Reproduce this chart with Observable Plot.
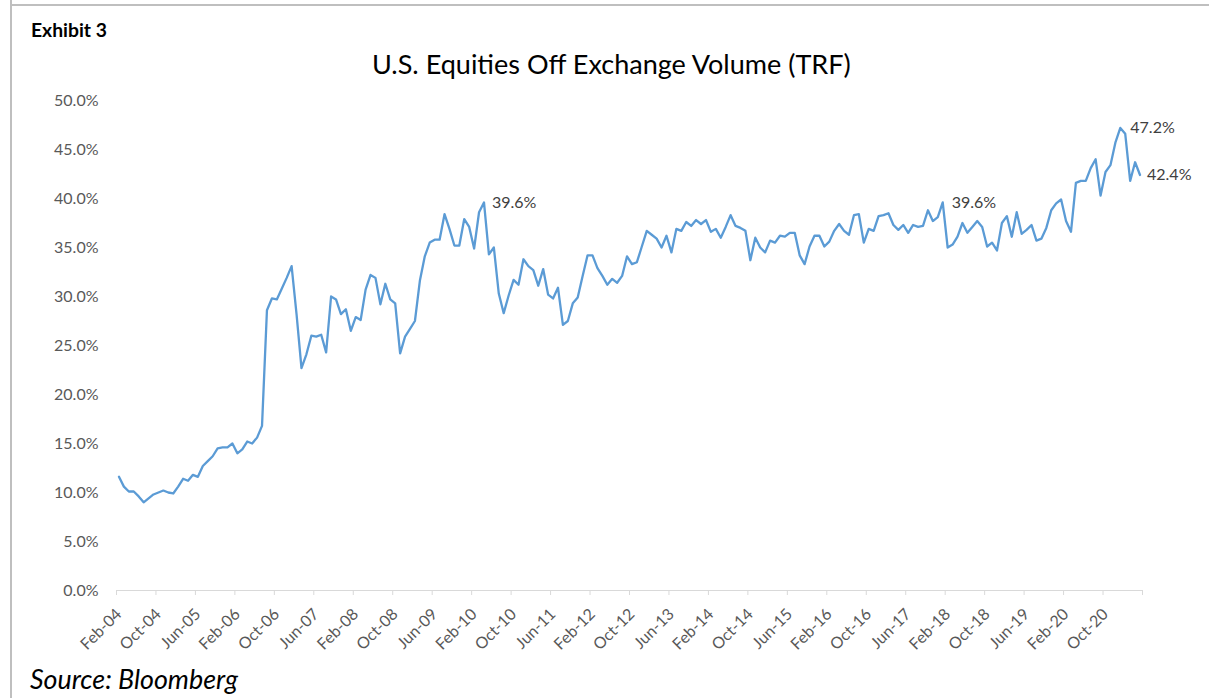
<!DOCTYPE html>
<html>
<head>
<meta charset="utf-8">
<script src="https://cdn.jsdelivr.net/npm/d3@7"></script>
<script src="https://cdn.jsdelivr.net/npm/@observablehq/plot@0.6"></script>
<style>
  body { margin: 0; background: #fff; }
  #wrap { position: relative; width: 1209px; height: 698px; overflow: hidden; font-family: Lato, "Open Sans", sans-serif; background: #fff; }
  #chart { position: absolute; left: 0; top: 0; }
  .bt { position: absolute; left: 10px; top: 4px; width: 1199px; height: 2px; background: #bfbfbf; }
  .bl { position: absolute; left: 10px; top: 0; width: 2px; height: 698px; background: #bfbfbf; }
  .txt { position: absolute; white-space: nowrap; line-height: 1; }
  #exhibit { left: 31px; top: 20px; font-weight: bold; font-size: 15px; color: #000; }
  #title { left: 372px; top: 50px; font-size: 24px; color: #000; }
  #source { left: 30px; top: 666px; font-style: italic; font-size: 22px; color: #000; }
</style>
</head>
<body>
<div id="wrap">
  <div class="bt"></div>
  <div class="bl"></div>
  <div id="chart"></div>
  <div id="exhibit" class="txt">Exhibit 3</div>
  <div id="title" class="txt">U.S. Equities Off Exchange Volume (TRF)</div>
  <div id="source" class="txt">Source: Bloomberg</div>
</div>
<script>
// Monthly share of U.S. equity volume traded off exchange (TRF), %, Feb-04 .. May-21
const offExchangeShare = [
  11.6, 10.6, 10.1, 10.1, 9.6, 9.0, 9.4, 9.8, 10.0, 10.2, 10.0, 9.9,
  10.6, 11.4, 11.2, 11.8, 11.6, 12.7, 13.2, 13.7, 14.5, 14.6, 14.6, 15.0,
  14.0, 14.4, 15.2, 15.0, 15.6, 16.8, 28.6, 29.8, 29.7, 30.8, 31.9, 33.1,
  28.2, 22.7, 24.1, 26.0, 25.9, 26.1, 24.3, 30.0, 29.7, 28.2, 28.7, 26.5,
  27.9, 27.6, 30.7, 32.2, 31.9, 29.2, 31.3, 29.7, 29.3, 24.2, 25.9, 26.7,
  27.5, 31.6, 34.1, 35.5, 35.8, 35.8, 38.4, 36.9, 35.2, 35.2, 37.9, 37.1,
  34.9, 38.6, 39.6, 34.3, 35.0, 30.3, 28.3, 30.1, 31.7, 31.2, 33.8, 33.1,
  32.7, 31.1, 32.8, 30.2, 29.8, 30.9, 27.1, 27.5, 29.3, 29.9, 32.1, 34.2,
  34.2, 32.9, 32.1, 31.2, 31.8, 31.4, 32.1, 34.1, 33.3, 33.5, 35.1, 36.7,
  36.3, 35.9, 35.0, 36.2, 34.5, 36.9, 36.7, 37.6, 37.2, 37.8, 37.4, 37.8,
  36.6, 36.9, 36.0, 37.1, 38.3, 37.2, 37.0, 36.7, 33.7, 36.0, 35.0, 34.5,
  35.7, 35.5, 36.2, 36.1, 36.5, 36.5, 34.2, 33.3, 35.1, 36.2, 36.2, 35.1,
  35.6, 36.7, 37.4, 36.7, 36.3, 38.3, 38.4, 35.5, 36.9, 36.7, 38.2, 38.3,
  38.5, 37.3, 36.8, 37.3, 36.5, 37.3, 37.1, 37.2, 38.8, 37.7, 38.1, 39.6,
  35.0, 35.3, 36.1, 37.5, 36.5, 37.1, 37.7, 37.1, 35.1, 35.5, 34.7, 37.5,
  38.2, 36.1, 38.6, 36.4, 36.8, 37.3, 35.7, 35.9, 37.0, 38.8, 39.5, 39.9,
  37.7, 36.6, 41.6, 41.8, 41.8, 43.1, 44.0, 40.3, 42.7, 43.4, 45.7, 47.2,
  46.6, 41.8, 43.7, 42.4
];

// x-axis labels, one every 8 months starting Feb-04
const tickLabels = [
  "Feb-04", "Oct-04", "Jun-05", "Feb-06", "Oct-06", "Jun-07", "Feb-08", "Oct-08",
  "Jun-09", "Feb-10", "Oct-10", "Jun-11", "Feb-12", "Oct-12", "Jun-13", "Feb-14",
  "Oct-14", "Jun-15", "Feb-16", "Oct-16", "Jun-17", "Feb-18", "Oct-18", "Jun-19",
  "Feb-20", "Oct-20"
];
const labelStep = 8;

// y-axis tick values (%)
const yTicks = [0, 5, 10, 15, 20, 25, 30, 35, 40, 45, 50];

// annotated points
const annotIndex = [74, 167, 203, 207];
const annotText = ["39.6%", "39.6%", "47.2%", "42.4%"];
const annotDx = [8, 9, 10, 7];

const data = offExchangeShare.map((v, i) => ({i, v}));
const annots = annotIndex.map((idx, k) => ({i: idx, v: offExchangeShare[idx], text: annotText[k], dx: annotDx[k]}));
const n = offExchangeShare.length;
const labelPos = tickLabels.map((_, k) => k * labelStep);
const boundaryPos = d3.range(0, Math.floor(n / labelStep) + 1).map(k => k * labelStep - 0.5);

const chart = Plot.plot({
  width: 1209,
  height: 698,
  marginLeft: 116,
  marginRight: 67,
  marginTop: 100,
  marginBottom: 108,
  x: {domain: [-0.5, n - 0.5]},
  y: {domain: [0, 50]},
  style: {fontFamily: "Lato, 'Open Sans', sans-serif", background: "transparent", overflow: "visible"},
  marks: [
    Plot.axisY({ticks: yTicks, tickFormat: d => d.toFixed(1) + "%", tickSize: 0, tickPadding: 18, fontSize: 16, fill: "#595959", label: null}),
    Plot.ruleY([0], {stroke: "#d9d9d9", strokeWidth: 1.2}),
    Plot.axisX({ticks: boundaryPos, tickSize: 5, tickFormat: () => "", stroke: "#d9d9d9", label: null}),
    Plot.axisX({ticks: labelPos, tickSize: 0, tickPadding: 21, tickRotate: -45, tickFormat: d => tickLabels[Math.round(d / labelStep)], fontSize: 16, fill: "#595959", label: null}),
    Plot.line(data, {x: "i", y: "v", stroke: "#5b9bd5", strokeWidth: 2.3, strokeLinejoin: "round"}),
    ...annots.map(a => Plot.text([a], {x: "i", y: "v", text: "text", textAnchor: "start", dx: a.dx, fill: "#404040", fontSize: 16}))
  ]
});
document.getElementById("chart").appendChild(chart);

// fit text widths to the reference layout
function fit(id, target) {
  const el = document.getElementById(id);
  const w = el.getBoundingClientRect().width;
  const fs = parseFloat(getComputedStyle(el).fontSize);
  el.style.fontSize = (fs * target / w) + "px";
}
fit("title", 479);
fit("source", 208);
fit("exhibit", 76);
</script>
</body>
</html>
